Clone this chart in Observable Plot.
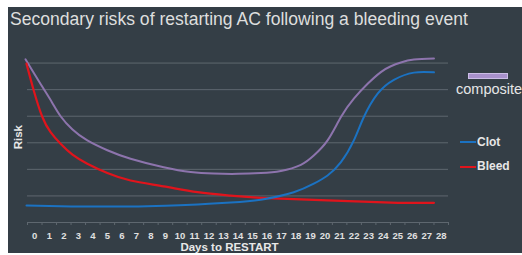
<!DOCTYPE html>
<html>
<head>
<meta charset="utf-8">
<script src="https://cdn.jsdelivr.net/npm/d3@7"></script>
<script src="https://cdn.jsdelivr.net/npm/@observablehq/plot@0.6"></script>
<style>
  html, body { margin:0; padding:0; background:#ffffff; width:522px; height:255px; overflow:hidden; }
  #panel { position:absolute; left:8px; top:7px; width:514px; height:246px; background:#343e46; }
  #title { position:absolute; left:0; top:0; }
  #chart { position:absolute; left:0; top:0; }
  .leg { position:absolute; font-family:"Liberation Sans", Arial, sans-serif; color:#e6e6e6; white-space:nowrap; }
</style>
</head>
<body>
<div id="panel"></div>
<svg id="title" width="522" height="36"><text x="10" y="25" font-family="Liberation Sans, Arial, sans-serif" font-size="18" fill="#dedede" textLength="458" lengthAdjust="spacingAndGlyphs">Secondary risks of restarting AC following a bleeding event</text></svg>
<div id="chart"></div>
<div class="leg" style="left:468px;top:72.5px;width:38px;height:4px;background:#a891cc;border:0.8px solid #cbbde6;"></div>
<div class="leg" style="left:456px;top:80.5px;font-size:14.5px;">composite</div>
<div class="leg" style="left:460px;top:141.3px;width:16px;height:2px;background:#1b72c2;"></div>
<div class="leg" style="left:477px;top:134.5px;font-size:12px;font-weight:bold;">Clot</div>
<div class="leg" style="left:460px;top:165.7px;width:16px;height:2px;background:#e0141c;"></div>
<div class="leg" style="left:477px;top:159px;font-size:12px;font-weight:bold;">Bleed</div>
<script>
// Tick labels (days) and gridline levels
const dayLabels = [0,1,2,3,4,5,6,7,8,9,10,11,12,13,14,15,16,17,18,19,20,21,22,23,24,25,26,27,28];
const gridLevels = [1,2,3,4,5,6];

// Composite risk curve
const compositeDay  = [-0.64,0.0,0.6,1.2,1.78,2.6,3.62,5.0,6.60,8.88,10.74,12.33,14.0,15.57,16.95,18.33,19.22,20.17,21.09,21.98,22.93,23.84,24.53,25.22,26.12,27.50];
const compositeRisk = [6.14,5.57,5.04,4.51,4.00,3.50,3.09,2.72,2.40,2.08,1.90,1.84,1.83,1.86,1.94,2.17,2.52,3.09,3.97,4.66,5.22,5.66,5.88,6.02,6.13,6.17];

// Clot risk curve
const clotDay  = [-0.57,1.78,4.0,6.60,9.0,11.22,13.50,15.57,17.84,19.22,20.17,21.09,21.98,22.67,23.62,24.74,26.12,27.50];
const clotRisk = [0.64,0.61,0.60,0.60,0.63,0.68,0.75,0.86,1.14,1.46,1.77,2.27,3.09,3.97,4.85,5.37,5.64,5.65];

// Bleed risk curve
const bleedDay  = [-0.57,-0.07,0.51,1.09,1.78,2.6,3.62,5.0,6.60,8.88,11.22,13.50,15.57,20.17,24.53,27.50];
const bleedRisk = [5.98,4.97,3.99,3.40,2.96,2.55,2.21,1.86,1.58,1.36,1.14,1.01,0.93,0.83,0.75,0.74];

const toRows = (xs, ys) => xs.map((d, i) => ({day: d, risk: ys[i]}));
const composite = toRows(compositeDay, compositeRisk);
const clot = toRows(clotDay, clotRisk);
const bleed = toRows(bleedDay, bleedRisk);
const tickBounds = dayLabels.map(d => d - 0.5).concat([dayLabels[dayLabels.length - 1] + 0.5]);

const chart = Plot.plot({
  width: 522,
  height: 255,
  marginLeft: 27,
  marginRight: 74,
  marginTop: 36,
  marginBottom: 33,
  style: {background: "transparent", color: "#e2e2e2", fontFamily: "Liberation Sans, Arial, sans-serif", overflow: "visible"},
  x: {type: "linear", domain: [-0.5, 28.5]},
  y: {domain: [0, 7], axis: null},
  marks: [
    Plot.ruleY(gridLevels, {stroke: "#5e676f", strokeWidth: 1}),
    Plot.ruleY([0], {stroke: "#5e676f", strokeWidth: 1}),
    Plot.axisX({ticks: tickBounds, tickSize: 3, tickFormat: () => "", stroke: "#5e676f", label: null}),
    Plot.axisX({ticks: dayLabels, tickSize: 0, tickPadding: 10, fontSize: 9.5, fontWeight: "bold", fill: "#e0e0e0", label: null, tickFormat: d => String(d)}),
    Plot.line(composite, {x: "day", y: "risk", stroke: "#8d74ad", strokeWidth: 2, curve: "natural"}),
    Plot.line(bleed, {x: "day", y: "risk", stroke: "#e0141c", strokeWidth: 2.2, curve: "natural"}),
    Plot.line(clot, {x: "day", y: "risk", stroke: "#1b72c2", strokeWidth: 2, curve: "natural"}),
    Plot.text(["Days to RESTART"], {frameAnchor: "bottom", lineAnchor: "middle", textAnchor: "middle", dx: -8.5, dy: 24.8, fontWeight: "bold", fontSize: 11.5, fill: "#e8e8e8"}),
    Plot.text(["Risk"], {frameAnchor: "left", rotate: -90, lineAnchor: "middle", textAnchor: "middle", dx: -8.7, dy: 7.7, fontWeight: "bold", fontSize: 11.5, fill: "#e8e8e8"})
  ]
});
document.getElementById("chart").appendChild(chart);
</script>
</body>
</html>
